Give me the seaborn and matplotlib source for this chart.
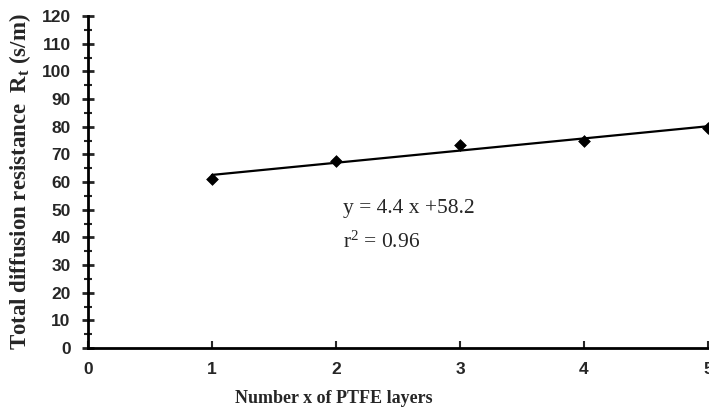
import numpy as np
import pandas as pd
import matplotlib
matplotlib.use("Agg")
import matplotlib.pyplot as plt
import seaborn as sns
from matplotlib.ticker import MultipleLocator

# data
layers = [1, 2, 3, 4, 5]
resistance = [61.0, 67.5, 73.3, 74.8, 79.6]
slope = 4.4
intercept = 58.2
r2 = 0.96

sns.set_style("ticks")
plt.rcParams["mathtext.fontset"] = "custom"
plt.rcParams["mathtext.rm"] = "Liberation Serif"
plt.rcParams["mathtext.it"] = "Liberation Serif"
plt.rcParams["mathtext.bf"] = "Liberation Serif:bold"

df = pd.DataFrame({"x": layers, "y": resistance})
fit = pd.DataFrame({"x": layers, "y": [slope * v + intercept for v in layers]})

fig = plt.figure(figsize=(7.09, 4.13), dpi=100)
ax = fig.add_axes([0.124, 0.157, 0.8746, 0.804])

sns.lineplot(data=fit, x="x", y="y", ax=ax, color="black", linewidth=1.6)
sns.scatterplot(data=df, x="x", y="y", ax=ax, marker="D", color="black",
                s=36, edgecolor="black", zorder=5, clip_on=False)

ax.set_xlim(0, 5)
ax.set_ylim(0, 120)
ax.xaxis.set_major_locator(MultipleLocator(1))
ax.yaxis.set_major_locator(MultipleLocator(10))
ax.yaxis.set_minor_locator(MultipleLocator(5))

for s in ["top", "right"]:
    ax.spines[s].set_visible(False)
for s in ["left", "bottom"]:
    ax.spines[s].set_linewidth(2)
    ax.spines[s].set_color("black")

ax.tick_params(axis="y", which="major", direction="inout", length=9, width=2, pad=8)
ax.tick_params(axis="y", which="minor", direction="inout", length=6, width=1.5)
ax.tick_params(axis="x", which="major", direction="in", length=5, width=1.5, pad=10)

for lab in ax.get_xticklabels() + ax.get_yticklabels():
    lab.set_fontfamily("Liberation Sans")
    lab.set_fontweight("bold")
    lab.set_fontsize(12.5)

ax.set_xlabel("Number x of PTFE layers", fontfamily="Liberation Serif",
              fontweight="bold", fontsize=13)
ax.xaxis.set_label_coords(0.397, -0.125)
ax.set_ylabel(r"Total diffusion resistance  R$_\mathbf{t}$ (s/m)",
              fontfamily="Liberation Serif", fontweight="bold", fontsize=16.5, labelpad=6)

ax.text(2.06, 53.8, f"y = {slope} x +{intercept}",
        fontfamily="Liberation Serif", fontsize=15.5, va="top", ha="left")
ax.text(2.06, 42.2, f"r$^2$ = {r2}",
        fontfamily="Liberation Serif", fontsize=15.5, va="top", ha="left")

fig.savefig("out.png", dpi=100)
